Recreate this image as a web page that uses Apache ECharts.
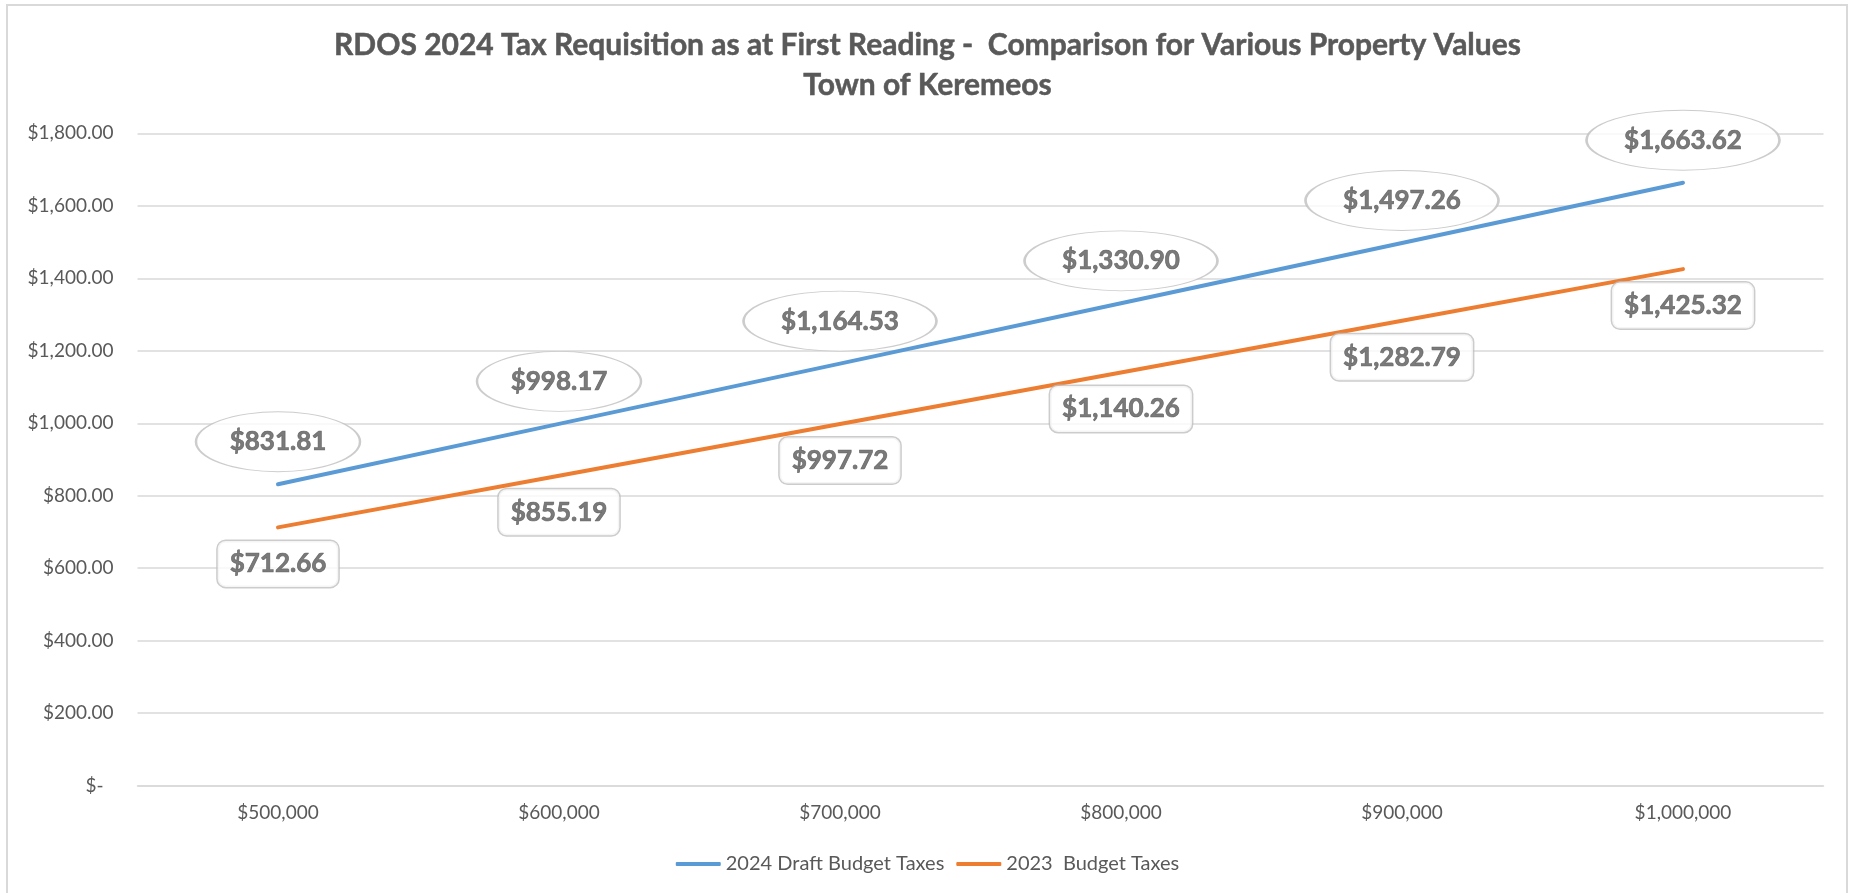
<!DOCTYPE html>
<html>
<head>
<meta charset="utf-8">
<script src="https://cdn.jsdelivr.net/npm/echarts@6/dist/echarts.min.js"></script>
<style>
html,body{margin:0;padding:0;background:#fff;}
#chart{width:1855px;height:893px;}
</style>
</head>
<body>
<div id="chart"></div>
<script>
// ---- data ----
var categories = ['$500,000', '$600,000', '$700,000', '$800,000', '$900,000', '$1,000,000'];
var taxes2024Draft = [831.81, 998.17, 1164.53, 1330.90, 1497.26, 1663.62];
var taxes2023 = [712.66, 855.19, 997.72, 1140.26, 1282.79, 1425.32];
var seriesNames = ['2024 Draft Budget Taxes', '2023  Budget Taxes'];
var yTicks = { min: 0, max: 1800, interval: 200 };
var titleLines = ['RDOS 2024 Tax Requisition as at First Reading -  Comparison for Various Property Values', 'Town of Keremeos'];

function money(v) {
  return '$' + v.toLocaleString('en-US', { minimumFractionDigits: 2, maximumFractionDigits: 2 });
}

var FONT = 'Lato';
var TXT = '#595959';
var chart = echarts.init(document.getElementById('chart'), null, { renderer: 'canvas' });

var option = {
  backgroundColor: '#ffffff',
  animation: false,
  textStyle: { fontFamily: FONT, color: TXT },
  title: {
    text: titleLines.join('\n'),
    left: 'center',
    top: 25,
    padding: 0,
    textStyle: { fontFamily: FONT, fontWeight: 'bold', fontSize: 30, lineHeight: 40, color: TXT,
                 textBorderColor: TXT, textBorderWidth: 0.5 }
  },
  graphic: [{
    type: 'rect',
    shape: { x: 7, y: 5, width: 1840, height: 900 },
    style: { fill: 'none', stroke: '#d9d9d9', lineWidth: 2 },
    silent: true
  }],
  grid: { left: 137.5, right: 31.5, top: 133.3, bottom: 107.3, containLabel: false },
  legend: {
    data: seriesNames,
    left: 'center',
    top: 849,
    icon: 'roundRect',
    itemWidth: 45,
    itemHeight: 4,
    itemGap: 12,
    textStyle: { fontFamily: FONT, fontSize: 20, color: TXT }
  },
  xAxis: {
    type: 'category',
    data: categories,
    boundaryGap: true,
    axisLine: { show: true, lineStyle: { color: '#d9d9d9', width: 1.5 } },
    axisTick: { show: false },
    axisLabel: { fontFamily: FONT, fontSize: 19, color: TXT, margin: 18 },
    splitLine: { show: false }
  },
  yAxis: {
    type: 'value',
    min: yTicks.min,
    max: yTicks.max,
    interval: yTicks.interval,
    axisLine: { show: false },
    axisTick: { show: false },
    axisLabel: {
      fontFamily: FONT, fontSize: 19, color: TXT, margin: 24,
      formatter: function (v) { return v === 0 ? '{z|$-}' : money(v); },
      rich: { z: { fontFamily: FONT, fontSize: 19, color: TXT, padding: [0, 10, 0, 0] } }
    },
    splitLine: { show: true, lineStyle: { color: '#d9d9d9', width: 1.5 } }
  },
  series: [
    {
      name: seriesNames[0],
      type: 'line',
      data: taxes2024Draft,
      symbol: 'none',
      lineStyle: { color: '#5B9BD5', width: 4, cap: 'round' },
      itemStyle: { color: '#5B9BD5' },
      z: 2
    },
    {
      name: seriesNames[1],
      type: 'line',
      data: taxes2023,
      symbol: 'none',
      lineStyle: { color: '#ED7D31', width: 4, cap: 'round' },
      itemStyle: { color: '#ED7D31' },
      z: 2
    },
    {
      name: 'labels2024',
      type: 'scatter',
      data: taxes2024Draft,
      symbol: 'circle',
      symbolSize: function (v) {
        var len = money(v).length;
        return [164 + (len - 7) * 14.5, 60];
      },
      symbolOffset: [0, -42.5],
      itemStyle: { color: '#ffffff', borderColor: '#bfbfbf', borderWidth: 1.5 },
      emphasis: { disabled: true },
      label: {
        show: true,
        position: 'inside',
        formatter: function (p) { return money(p.value); },
        fontFamily: FONT, fontWeight: 'bold', fontSize: 26, color: TXT,
        textBorderColor: TXT, textBorderWidth: 0.7
      },
      z: 5
    },
    {
      name: 'labels2023',
      type: 'scatter',
      data: taxes2023,
      symbol: 'circle',
      symbolSize: 1,
      itemStyle: { color: 'rgba(0,0,0,0)' },
      emphasis: { disabled: true },
      label: {
        show: true,
        position: 'inside',
        offset: [0, 36.5],
        formatter: function (p) { return money(p.value); },
        fontFamily: FONT, fontWeight: 'bold', fontSize: 26, color: TXT,
        textBorderColor: TXT, textBorderWidth: 0.7,
        lineHeight: 26,
        backgroundColor: '#ffffff',
        borderColor: '#bfbfbf',
        borderWidth: 1.5,
        borderRadius: 8,
        padding: [10, 12]
      },
      z: 5
    }
  ]
};
chart.setOption(option);
</script>
</body>
</html>
